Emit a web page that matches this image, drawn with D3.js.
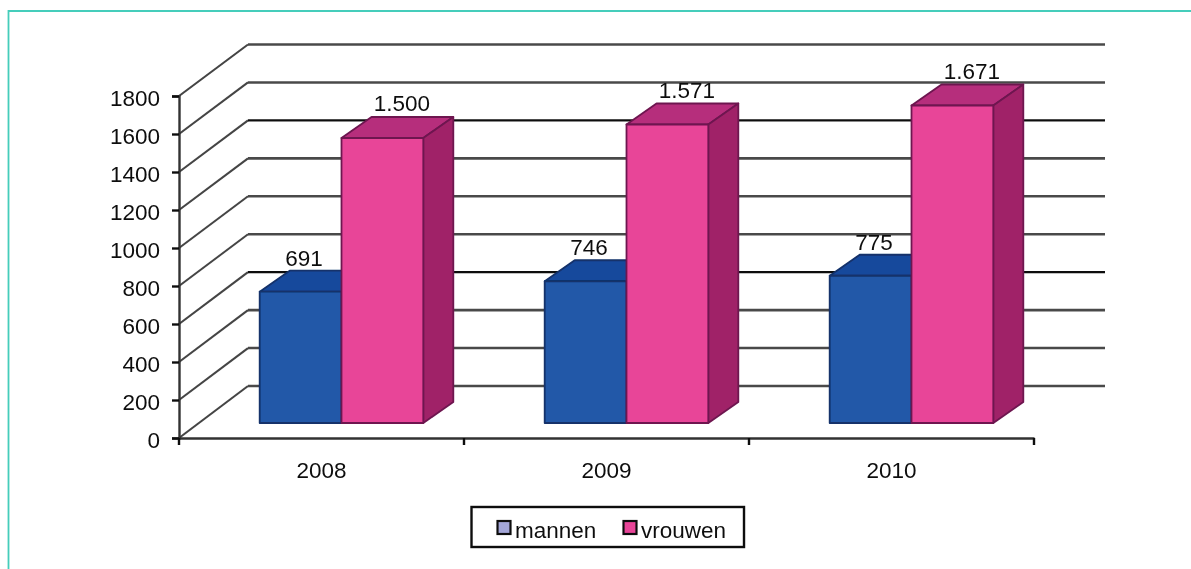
<!DOCTYPE html>
<html><head><meta charset="utf-8">
<script src="https://d3js.org/d3.v7.min.js"></script>
<style>html,body{margin:0;padding:0;background:#fff}svg{display:block}text{font-family:"Liberation Sans",Arial,sans-serif;fill:#111}</style>
</head><body><div id="c"></div>
<script>
const years = ["2008","2009","2010"];
const seriesNames = ["mannen","vrouwen"];
const mannen = [691,746,775];
const vrouwen = [1500,1571,1671];
const valueLabelsMannen = ["691","746","775"];
const valueLabelsVrouwen = ["1.500","1.571","1.671"];
const yTicks = [0,200,400,600,800,1000,1200,1400,1600,1800];
const darkTicks = [600,1400];

const W=1191,H=569,FS=22.5;
const svg=d3.select("#c").append("svg").attr("width",W).attr("height",H);
const defs=svg.append("defs");
defs.append("filter").attr("id","soft").attr("x","-2%").attr("y","-2%").attr("width","104%").attr("height","104%")
  .append("feGaussianBlur").attr("stdDeviation",0.7);

// frame
svg.append("path").attr("d",`M1191,11H8.5V569`).attr("fill","none").attr("stroke","#45cdbb").attr("stroke-width",1.8);

const g=svg.append("g").attr("filter","url(#soft)");
const yAxisScale=d3.scaleLinear().domain([0,1800]).range([438,96]);
const yBack=d3.scaleLinear().domain([0,1800]).range([386,44.5]);
const yBar=d3.scaleLinear().domain([0,1800]).range([423,81]);
const x=d3.scaleBand().domain(years).range([179,1034]);
const xInner=d3.scaleBand().domain(seriesNames).range([80.7,244.3]);
const depthX=69, backEnd=1105, barDX=30, barDY=21;

// side wall diagonals
g.append("g").selectAll("path").data(yTicks).join("path")
  .attr("d",t=>`M${x.range()[0]},${yAxisScale(t)}L${x.range()[0]+depthX},${yBack(t)}`)
  .attr("fill","none").attr("stroke","#444").attr("stroke-width",2.1);
// back wall gridlines
g.append("g").selectAll("path").data(yTicks).join("path")
  .attr("d",t=>`M${x.range()[0]+depthX},${yBack(t)}H${backEnd}`)
  .attr("fill","none")
  .attr("stroke",t=>darkTicks.includes(t)?"#111":"#4a4a4a")
  .attr("stroke-width",t=>darkTicks.includes(t)?2.2:2.6);

// axes
const axL=g.append("g").attr("transform","translate(179,0)")
  .call(d3.axisLeft(yAxisScale).tickValues(yTicks).tickSize(7).tickPadding(12).tickFormat(d=>d));
const axB=g.append("g").attr("transform","translate(0,438)")
  .call(d3.axisBottom(x).tickSize(0).tickPadding(24));
[axL,axB].forEach(a=>{a.selectAll("path.domain").attr("stroke","#333").attr("stroke-width",2.4);
  a.selectAll(".tick line").attr("stroke","#111").attr("stroke-width",2.4);
  a.selectAll("text").attr("font-size",FS).attr("font-family",'"Liberation Sans"').attr("fill","#111");});
axL.selectAll(".tick text").attr("dy","0.4em");
axB.selectAll(".tick text").attr("dy","0.71em");
g.append("g").selectAll("line").data(d3.range(years.length+1)).join("line")
  .attr("x1",i=>x.range()[0]+i*x.bandwidth()).attr("x2",i=>x.range()[0]+i*x.bandwidth())
  .attr("y1",438).attr("y2",445).attr("stroke","#111").attr("stroke-width",2.4);

// bars
const palette={mannen:{front:"#2058a8",top:"#18499c",side:"#18499c",edge:"#12306a"},
               vrouwen:{front:"#e84498",top:"#b62f7c",side:"#a02468",edge:"#6e1450"}};
const rows=[];
years.forEach((yr,i)=>{rows.push({yr,s:"mannen",v:mannen[i],l:valueLabelsMannen[i]});
                       rows.push({yr,s:"vrouwen",v:vrouwen[i],l:valueLabelsVrouwen[i]});});
const bars=g.append("g");
rows.forEach(d=>{
  const x0=x(d.yr)+xInner(d.s), w=xInner.bandwidth(), y0=yBar(d.v), b=yBar(0), c=palette[d.s];
  const gg=bars.append("g").attr("stroke",c.edge).attr("stroke-width",1.8).attr("stroke-linejoin","round");
  gg.append("path").attr("fill",c.top)
    .attr("d",`M${x0},${y0}l${barDX},${-barDY}h${w}l${-barDX},${barDY}Z`);
  gg.append("path").attr("fill",c.side)
    .attr("d",`M${x0+w},${y0}l${barDX},${-barDY}V${b-barDY}l${-barDX},${barDY}Z`);
  gg.append("rect").attr("fill",c.front).attr("x",x0).attr("y",y0).attr("width",w).attr("height",b-y0);
});

// value labels
g.append("g").selectAll("text").data(rows).join("text")
  .attr("x",d=>x(d.yr)+xInner(d.s)+xInner.bandwidth()/2+(d.s==="mannen"?3.5:19.5))
  .attr("y",d=>yBar(d.v)-(d.s==="mannen"?26:27))
  .attr("text-anchor","middle").attr("font-size",FS).text(d=>d.l);

// legend
const lg=g.append("g");
lg.append("rect").attr("x",471.5).attr("y",507).attr("width",272.5).attr("height",40)
  .attr("fill","#fff").attr("stroke","#111").attr("stroke-width",2.4);
const legendColors=["#a3a6d8","#e84498"];
const lx=d3.scaleOrdinal().domain(seriesNames).range([497.5,623.5]);
seriesNames.forEach((s,i)=>{
  lg.append("rect").attr("x",lx(s)).attr("y",521).attr("width",13).attr("height",13)
    .attr("fill",legendColors[i]).attr("stroke","#111").attr("stroke-width",2.2);
  lg.append("text").attr("x",lx(s)+17.5).attr("y",537.5).attr("font-size",FS).text(s);
});
</script></body></html>
